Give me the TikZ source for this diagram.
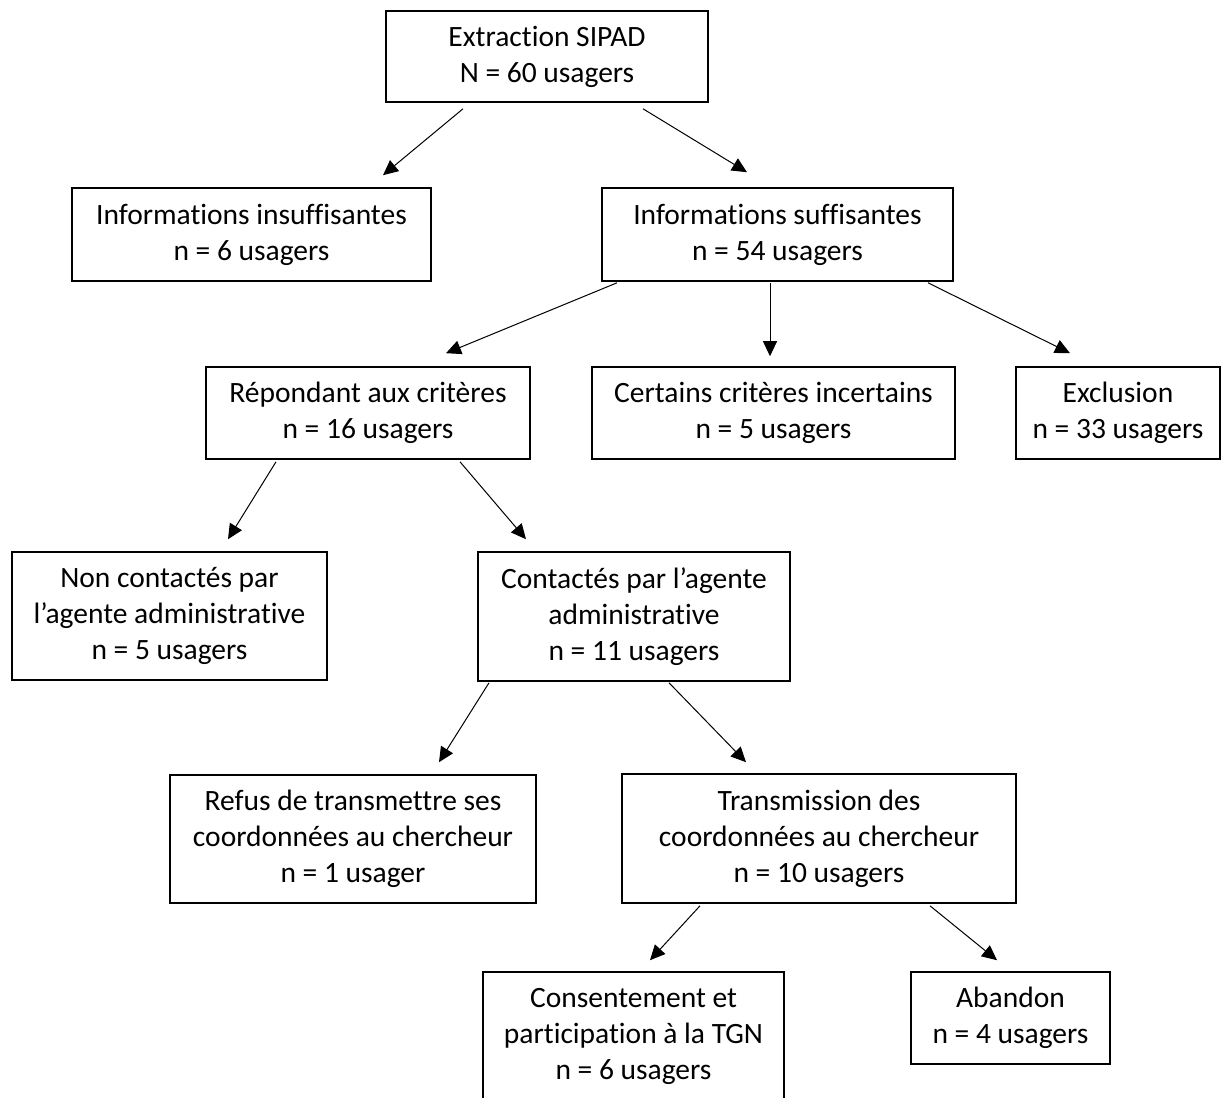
\documentclass[tikz,border=0pt]{standalone}
\usepackage{fontspec}
\setmainfont{Carlito}[Ligatures=CommonOff]
\usetikzlibrary{arrows.meta, positioning}

\tikzset{
    boite/.style={draw, line width=1.6pt, align=center, inner sep=0pt,
        font=\fontsize{29.5pt}{36pt}\selectfont},
    fleche/.style={-{Triangle[length=15pt,width=14pt]}, line width=1pt}
}

\begin{document}
\begin{tikzpicture}[x=1pt, y=-1pt]
    \useasboundingbox (0,0) rectangle (1222,1097); % page frame

    % level 1 and 2
    \node[boite, minimum width=322pt, minimum height=91pt] (extraction) at (547,56.5) {Extraction SIPAD\\N = 60 usagers};
    \node[boite, minimum width=359pt, minimum height=93pt] (insuff) at (251.5,234.5) {Informations insuffisantes\\n = 6 usagers};
    \node[boite, minimum width=351pt, minimum height=93pt] (suff) at (777.5,234.5) {Informations suffisantes\\n = 54 usagers};

    % level 3
    \node[boite, minimum width=324pt, minimum height=92pt] (repond) at (368,413) {Répondant aux critères\\n = 16 usagers};
    \node[boite, minimum width=363pt, minimum height=92pt] (incert) at (773.5,413) {Certains critères incertains\\n = 5 usagers};
    \node[boite, minimum width=204pt, minimum height=92pt] (exclu) at (1118,413) {Exclusion\\n = 33 usagers};

    % level 4
    \node[boite, minimum width=315pt, minimum height=128pt] (noncont) at (169.5,616) {Non contactés par\\l’agente administrative\\n = 5 usagers};
    \node[boite, minimum width=312pt, minimum height=129pt] (cont) at (634,616.5) {Contactés par l’agente\\administrative\\n = 11 usagers};

    % level 5
    \node[boite, minimum width=366pt, minimum height=128pt] (refus) at (353,839) {Refus de transmettre ses\\coordonnées au chercheur\\n = 1 usager};
    \node[boite, minimum width=394pt, minimum height=129pt] (trans) at (819,838.5) {Transmission des\\coordonnées au chercheur\\n = 10 usagers};

    % level 6
    \node[boite, minimum width=301pt, minimum height=128pt] (consent) at (633.5,1036) {Consentement et\\participation à la TGN\\n = 6 usagers};
    \node[boite, minimum width=199pt, minimum height=92pt] (abandon) at (1010.5,1018) {Abandon\\n = 4 usagers};

    % arrows
    \draw[fleche] ([xshift=-84pt,yshift=-6pt]extraction.south) -- ([xshift=131.5pt,yshift=12pt]insuff.north);
    \draw[fleche] ([xshift=96pt,yshift=-6pt]extraction.south) -- ([xshift=-30.5pt,yshift=15pt]suff.north);
    \draw[fleche] ([xshift=-160.5pt,yshift=-1pt]suff.south) -- ([xshift=78pt,yshift=13pt]repond.north);
    \draw[fleche] ([xshift=-7.5pt,yshift=-1pt]suff.south) -- ([xshift=-3.5pt,yshift=10pt]incert.north);
    \draw[fleche] ([xshift=150.5pt,yshift=-1pt]suff.south) -- ([xshift=-48pt,yshift=13pt]exclu.north);
    \draw[fleche] ([xshift=-92pt,yshift=-2pt]repond.south) -- ([xshift=58.5pt,yshift=12pt]noncont.north);
    \draw[fleche] ([xshift=92pt,yshift=-2pt]repond.south) -- ([xshift=-108pt,yshift=12pt]cont.north);
    \draw[fleche] ([xshift=-145pt,yshift=-1pt]cont.south) -- ([xshift=86pt,yshift=12pt]refus.north);
    \draw[fleche] ([xshift=35pt,yshift=-1pt]cont.south) -- ([xshift=-73pt,yshift=11pt]trans.north);
    \draw[fleche] ([xshift=-119pt,yshift=-2pt]trans.south) -- ([xshift=16.5pt,yshift=11pt]consent.north);
    \draw[fleche] ([xshift=111pt,yshift=-2pt]trans.south) -- ([xshift=-13.5pt,yshift=11pt]abandon.north);
\end{tikzpicture}
\end{document}
